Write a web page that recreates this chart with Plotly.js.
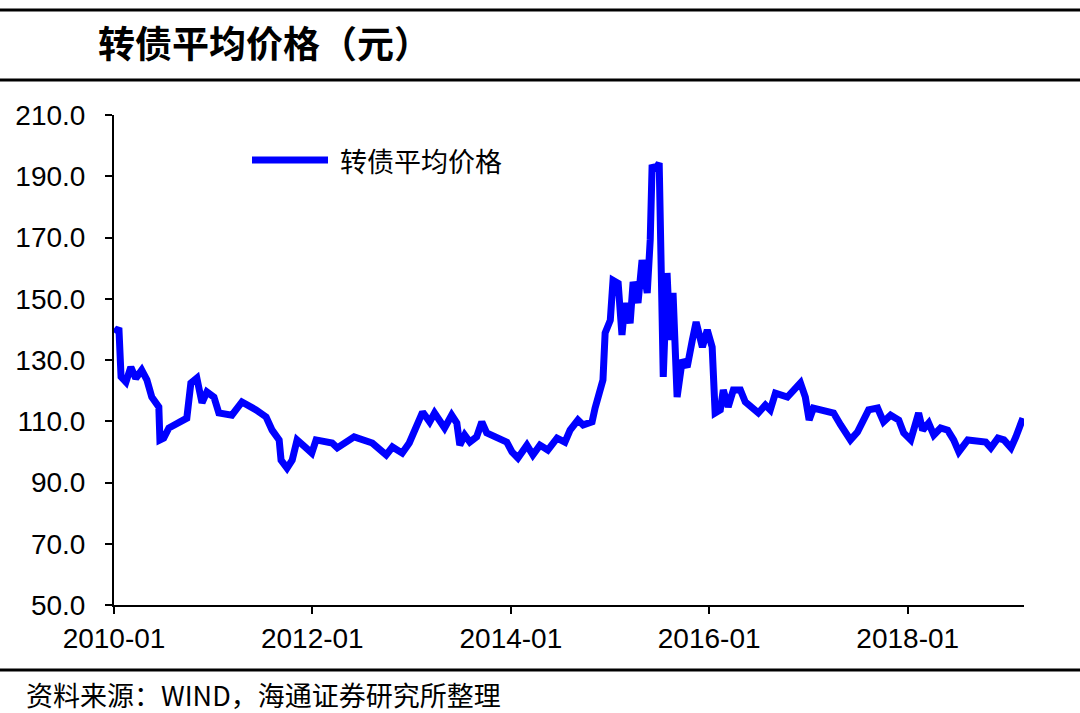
<!DOCTYPE html>
<html>
<head>
<meta charset="utf-8">
<script src="https://cdn.plot.ly/plotly-3.0.1.min.js"></script>
<style>html,body{margin:0;padding:0;background:#fff;}#chart{width:1080px;height:713px;}</style>
</head>
<body>
<div id="chart"></div>
<script>
const seriesName = "转债平均价格";
const chartTitle = "转债平均价格（元）";
const sourceNote = "资料来源：WIND，海通证券研究所整理";

const dates = [
"2010-01-04","2010-01-19","2010-01-27","2010-02-14","2010-03-04","2010-03-22","2010-04-13","2010-05-02","2010-05-20","2010-06-15",
"2010-06-19","2010-07-03","2010-07-22","2010-08-28","2010-09-26","2010-10-11","2010-11-02","2010-11-21","2010-12-09","2011-01-04",
"2011-01-22","2011-03-11","2011-04-17","2011-06-08","2011-07-15","2011-08-06","2011-09-01","2011-09-08","2011-09-30","2011-10-19",
"2011-11-06","2011-12-09","2011-12-30","2012-01-15","2012-03-14","2012-04-02","2012-06-03","2012-08-09","2012-09-29","2012-10-22",
"2012-11-27","2012-12-23","2013-01-23","2013-02-10","2013-03-08","2013-03-26","2013-05-02","2013-05-28","2013-06-16","2013-06-27",
"2013-07-15","2013-08-03","2013-08-28","2013-09-16","2013-10-04","2013-11-10","2013-12-17","2014-01-05","2014-01-27","2014-03-01",
"2014-03-23","2014-04-18","2014-05-17","2014-06-20","2014-07-19","2014-08-07","2014-09-05","2014-09-24","2014-10-27","2014-11-07",
"2014-11-25","2014-12-06","2014-12-14","2015-01-02","2015-01-12","2015-01-31","2015-02-14","2015-02-25","2015-03-16","2015-03-27",
"2015-04-14","2015-04-29","2015-05-18","2015-05-29","2015-06-05","2015-06-16","2015-07-01","2015-07-05","2015-07-16","2015-07-30",
"2015-08-10","2015-08-21","2015-09-05","2015-09-24","2015-10-12","2015-10-31","2015-11-14","2015-12-07","2015-12-25","2016-01-12",
"2016-01-23","2016-02-11","2016-02-22","2016-03-11","2016-03-30","2016-04-25","2016-05-13","2016-06-30","2016-07-26","2016-08-13",
"2016-09-01","2016-10-15","2016-12-02","2016-12-20","2017-01-03","2017-01-19","2017-02-25","2017-04-03","2017-04-29","2017-06-04",
"2017-06-30","2017-07-22","2017-08-10","2017-09-12","2017-10-04","2017-10-30","2017-11-29","2017-12-17","2018-01-12","2018-02-10",
"2018-02-25","2018-03-19","2018-04-07","2018-05-02","2018-05-28","2018-06-19","2018-07-08","2018-08-10","2018-09-16","2018-10-15",
"2018-11-03","2018-11-29","2018-12-21","2019-01-16","2019-02-03","2019-03-01"
];
const prices = [
138.8,140.5,124.5,122.8,127.7,124.0,126.7,123.5,117.9,114.7,
103.9,104.5,107.8,109.8,111.0,122.5,124.1,116.0,119.6,117.9,
112.7,112.0,116.3,113.7,111.4,107.1,103.9,97.3,94.7,97.3,
103.9,101.3,99.6,103.9,102.9,101.3,104.9,102.9,99.0,101.6,
99.6,102.9,109.4,113.0,109.8,112.7,107.8,112.0,109.4,102.2,
105.5,103.2,104.9,109.8,106.2,104.5,103.2,100.0,98.0,102.2,
99.0,102.2,100.6,104.5,103.2,107.1,110.4,108.8,109.8,114.3,
119.2,123.5,138.8,143.0,156.0,155.0,138.2,148.6,142.0,155.5,
148.6,162.6,151.9,169.2,193.7,192.0,194.3,169.2,124.5,158.4,
136.5,151.9,117.9,130.0,127.7,136.5,142.4,134.2,139.8,134.2,
112.7,113.7,120.2,114.7,120.2,120.2,116.3,112.7,115.3,113.7,
119.2,117.9,122.5,117.9,110.4,114.3,113.7,112.7,108.8,103.9,
106.5,110.4,113.7,114.3,109.8,112.0,110.4,106.2,103.9,112.7,
107.1,109.4,105.5,107.8,107.1,103.9,100.0,103.9,103.2,103.2,
101.3,104.5,103.9,101.3,104.9,111.0
];
const xTickVals = ["2010-01-01","2012-01-01","2014-01-01","2016-01-01","2018-01-01"];
const xTickText = ["2010-01","2012-01","2014-01","2016-01","2018-01"];
const yTickVals = [50,70,90,110,130,150,170,190,210];

const W = 1080, H = 713;
const mL = 114, mR = 56, mT = 115, mB = 108;
const pw = W - mL - mR, ph = H - mT - mB;
const px = x => (x - mL) / pw;
const py = y => (H - mB - y) / ph;

const cjk = '"Noto Sans CJK SC", "Noto Sans", sans-serif';
const latin = '"Liberation Sans", Arial, sans-serif';

const trace = {
  x: dates, y: prices, type: 'scatter', mode: 'lines', name: seriesName,
  line: {color: '#0000FF', width: 7, shape: 'linear'},
  showlegend: false, hoverinfo: 'x+y'
};

const layout = {
  width: W, height: H,
  margin: {l: mL, r: mR, t: mT, b: mB},
  paper_bgcolor: '#fff', plot_bgcolor: '#fff',
  title: {text: chartTitle, font: {family: cjk, size: 37, color: '#000', weight: 'bold'},
          xref: 'container', yref: 'container', x: 98 / W, xanchor: 'left', y: 1 - 45 / H, yanchor: 'middle'},
  xaxis: {type: 'date', range: ['2010-01-01', '2019-03-05'], tickvals: xTickVals, ticktext: xTickText,
          ticks: 'outside', ticklen: 7, tickwidth: 2, tickcolor: '#000', showline: true, linecolor: '#000', linewidth: 2,
          showgrid: false, zeroline: false, tickfont: {family: latin, size: 28, color: '#000'}},
  yaxis: {range: [50, 210], tickvals: yTickVals, tickformat: '.1f', ticklabelstandoff: 14,
          ticks: 'outside', ticklen: 7, tickwidth: 2, tickcolor: '#000', showline: true, linecolor: '#000', linewidth: 2,
          showgrid: false, zeroline: false, tickfont: {family: latin, size: 28, color: '#000'}},
  shapes: [
    {type: 'line', xref: 'paper', yref: 'paper', x0: px(0), x1: px(W), y0: py(10), y1: py(10), line: {color: '#000', width: 3}},
    {type: 'line', xref: 'paper', yref: 'paper', x0: px(0), x1: px(W), y0: py(80), y1: py(80), line: {color: '#000', width: 3}},
    {type: 'line', xref: 'paper', yref: 'paper', x0: px(0), x1: px(W), y0: py(670), y1: py(670), line: {color: '#000', width: 3}},
    {type: 'line', xref: 'paper', yref: 'paper', x0: px(252), x1: px(328), y0: py(160), y1: py(160), line: {color: '#0000FF', width: 7}}
  ],
  annotations: [
    {text: seriesName, xref: 'paper', yref: 'paper', x: px(338), y: py(160), xanchor: 'left', yanchor: 'middle',
     showarrow: false, font: {family: cjk, size: 27, color: '#000'}},
    {text: sourceNote, xref: 'paper', yref: 'paper', x: px(24), y: py(694), xanchor: 'left', yanchor: 'middle',
     showarrow: false, font: {family: cjk, size: 27, color: '#000'}}
  ]
};

Plotly.newPlot('chart', [trace], layout, {displayModeBar: false, staticPlot: true});
</script>
</body>
</html>
